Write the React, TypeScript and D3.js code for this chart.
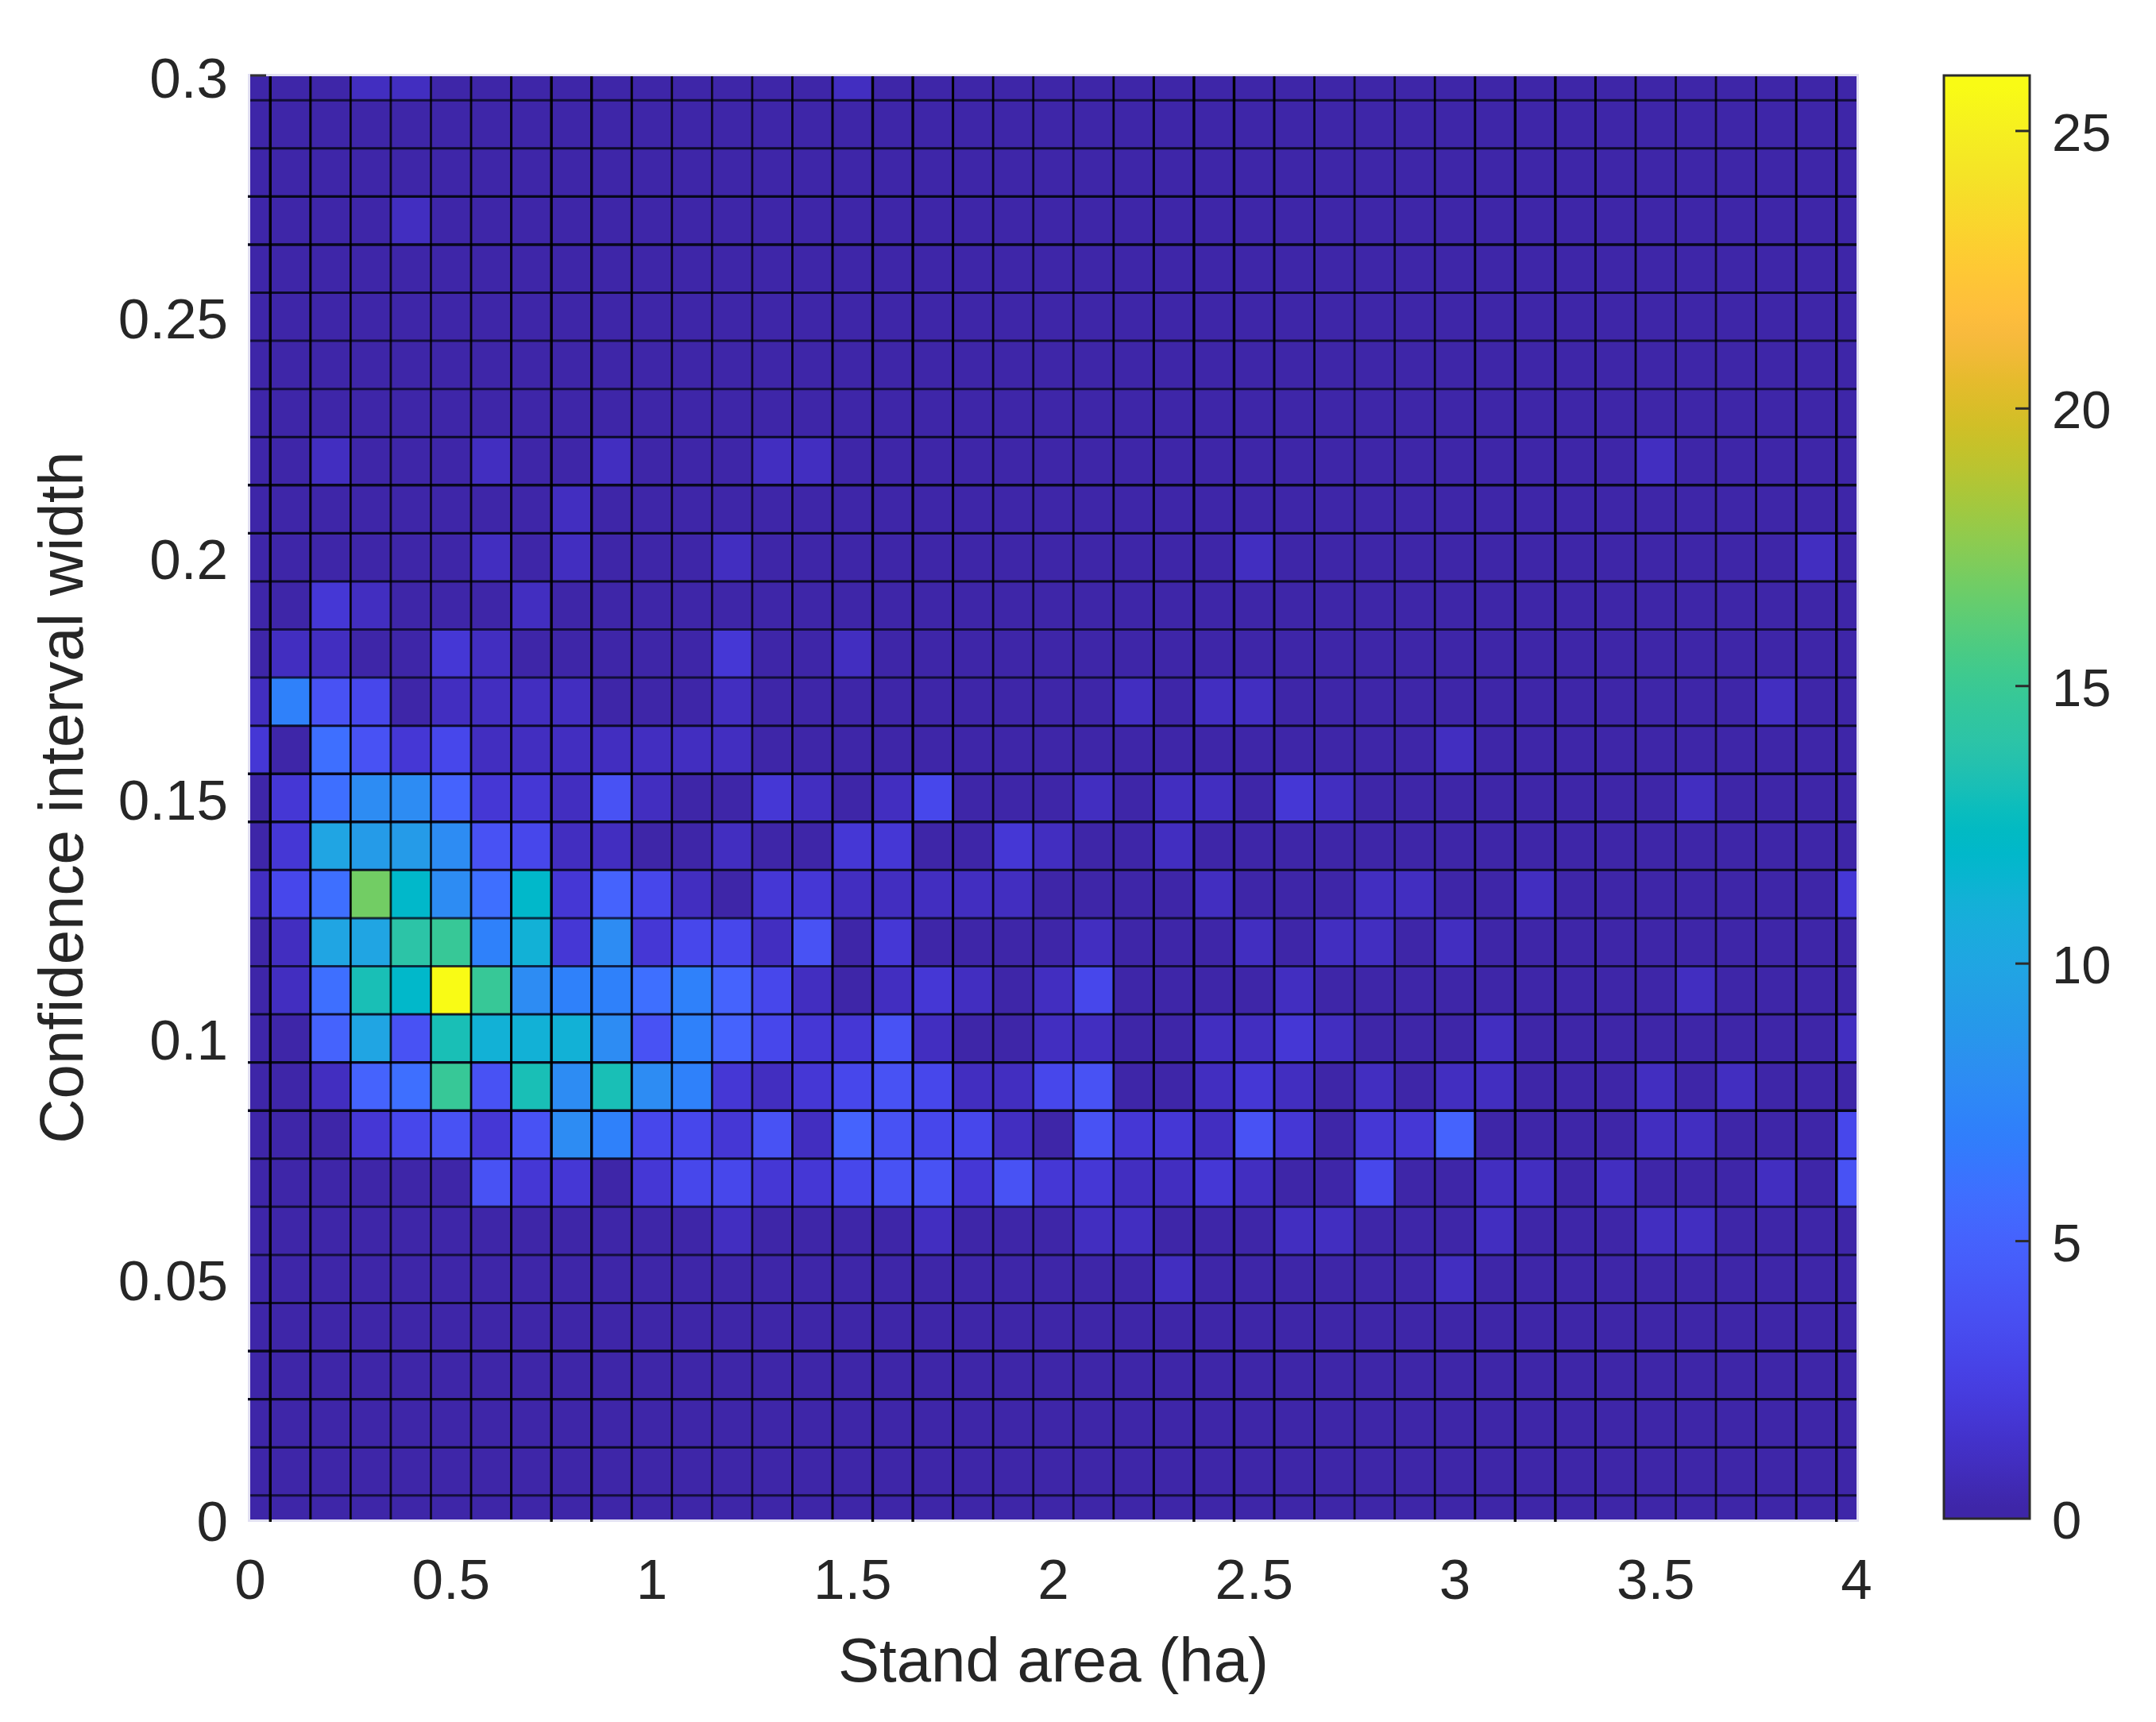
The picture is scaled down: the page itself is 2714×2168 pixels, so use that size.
import React from "react";
import * as d3 from "d3";

const WIDTH = 2714;
const HEIGHT = 2168;
const FONT = "'Liberation Sans', Arial, sans-serif";
const INK = "#262626";

const xTicks = [0, 0.5, 1, 1.5, 2, 2.5, 3, 3.5, 4];
const yTicks = [0, 0.05, 0.1, 0.15, 0.2, 0.25, 0.3];
const colorTicks = [0, 5, 10, 15, 20, 25];
const xTitle = "Stand area (ha)";
const yTitle = "Confidence interval width";
const COL_COUNT = 41;
const ROW_COUNT = 31;
const COLOR_MAX = 26;

// Non-zero counts per row: row index = width / 0.01, pairs of [column, count], column = area / 0.1
const row30 = [[3, 1], [4, 1], [15, 1]];
const row27 = [[4, 1]];
const row22 = [[2, 1], [6, 1], [9, 1], [13, 1], [14, 1], [35, 1]];
const row21 = [[8, 1]];
const row20 = [[6, 1], [8, 1], [12, 1], [25, 1], [39, 1]];
const row19 = [[2, 2], [3, 1], [7, 1]];
const row18 = [[1, 1], [2, 1], [5, 2], [6, 1], [12, 2], [15, 1]];
const row17 = [[0, 1], [1, 7], [2, 4], [3, 3], [5, 1], [6, 1], [7, 1], [8, 1], [12, 1], [22, 1], [24, 1], [25, 1], [38, 1]];
const row16 = [[0, 2], [2, 6], [3, 4], [4, 2], [5, 3], [6, 1], [7, 1], [8, 1], [9, 1], [10, 1], [11, 1], [12, 1], [30, 1]];
const row15 = [[1, 2], [2, 6], [3, 8], [4, 8], [5, 5], [6, 2], [7, 2], [8, 1], [9, 4], [10, 1], [13, 2], [14, 1], [16, 1], [17, 3], [21, 1], [23, 1], [24, 1], [26, 2], [27, 1], [36, 1]];
const row14 = [[1, 2], [2, 10], [3, 9], [4, 9], [5, 8], [6, 4], [7, 3], [8, 1], [9, 1], [12, 1], [15, 2], [16, 2], [19, 2], [20, 1], [23, 1]];
const row13 = [[0, 1], [1, 3], [2, 6], [3, 17], [4, 12], [5, 8], [6, 6], [7, 12], [8, 2], [9, 5], [10, 3], [11, 1], [13, 2], [14, 2], [15, 1], [16, 1], [17, 1], [18, 1], [19, 1], [24, 1], [28, 1], [29, 1], [32, 1], [40, 2]];
const row12 = [[1, 1], [2, 10], [3, 10], [4, 14], [5, 15], [6, 7], [7, 11], [8, 2], [9, 8], [10, 2], [11, 3], [12, 3], [13, 1], [14, 4], [16, 2], [21, 1], [25, 1], [27, 1], [28, 1], [30, 1]];
const row11 = [[1, 1], [2, 6], [3, 13], [4, 12], [5, 26], [6, 15], [7, 8], [8, 7], [9, 7], [10, 6], [11, 7], [12, 5], [13, 3], [14, 1], [16, 1], [17, 2], [18, 1], [20, 1], [21, 3], [26, 1], [36, 1]];
const row10 = [[2, 5], [3, 10], [4, 4], [5, 13], [6, 11], [7, 11], [8, 11], [9, 8], [10, 4], [11, 7], [12, 5], [13, 3], [14, 2], [15, 2], [16, 4], [17, 1], [20, 1], [21, 1], [24, 1], [25, 1], [26, 2], [27, 1], [31, 1], [40, 1]];
const row9 = [[2, 1], [3, 5], [4, 6], [5, 15], [6, 4], [7, 13], [8, 8], [9, 13], [10, 8], [11, 7], [12, 2], [13, 1], [14, 2], [15, 3], [16, 4], [17, 3], [18, 1], [19, 1], [20, 3], [21, 4], [24, 1], [25, 2], [26, 1], [28, 1], [30, 1], [31, 1], [35, 1], [37, 1]];
const row8 = [[3, 2], [4, 3], [5, 4], [6, 2], [7, 4], [8, 8], [9, 7], [10, 3], [11, 3], [12, 2], [13, 4], [14, 1], [15, 5], [16, 4], [17, 3], [18, 3], [19, 1], [21, 4], [22, 2], [23, 2], [24, 1], [25, 4], [26, 2], [28, 2], [29, 2], [30, 5], [35, 1], [36, 1], [40, 3]];
const row7 = [[6, 4], [7, 2], [8, 2], [10, 2], [11, 3], [12, 3], [13, 2], [14, 2], [15, 3], [16, 4], [17, 4], [18, 2], [19, 4], [20, 2], [21, 2], [22, 1], [23, 1], [24, 2], [25, 1], [28, 3], [31, 1], [32, 1], [34, 1], [38, 1], [40, 4]];
const row6 = [[12, 1], [17, 1], [21, 1], [22, 1], [26, 1], [27, 1], [31, 1], [35, 1], [36, 1]];
const row5 = [[23, 1], [30, 1]];

const nonZeroRows: [number, number[][]][] = [
  [30, row30], [27, row27], [22, row22], [21, row21], [20, row20], [19, row19], [18, row18],
  [17, row17], [16, row16], [15, row15], [14, row14], [13, row13], [12, row12], [11, row11],
  [10, row10], [9, row9], [8, row8], [7, row7], [6, row6], [5, row5],
];

const parula = [
  [0.2422, 0.1504, 0.6603], [0.2504, 0.165, 0.7076], [0.2578, 0.1818, 0.7511], [0.2647, 0.1978, 0.7952],
  [0.2706, 0.2147, 0.8364], [0.2751, 0.2342, 0.871], [0.2783, 0.2559, 0.8991], [0.2803, 0.2782, 0.9221],
  [0.2813, 0.3006, 0.9414], [0.281, 0.3228, 0.9579], [0.2795, 0.3447, 0.9717], [0.276, 0.3667, 0.9829],
  [0.2699, 0.3892, 0.9906], [0.2602, 0.4123, 0.9952], [0.244, 0.4358, 0.9988], [0.2206, 0.4603, 0.9973],
  [0.1963, 0.4847, 0.9892], [0.1834, 0.5074, 0.9798], [0.1786, 0.5289, 0.9682], [0.1764, 0.5499, 0.952],
  [0.1687, 0.5703, 0.9359], [0.154, 0.5902, 0.9218], [0.146, 0.6091, 0.9079], [0.138, 0.6276, 0.8973],
  [0.1248, 0.6459, 0.8883], [0.1113, 0.6635, 0.8763], [0.0952, 0.6798, 0.8598], [0.0689, 0.6948, 0.8394],
  [0.0297, 0.7082, 0.8163], [0.0036, 0.7203, 0.7917], [0.0067, 0.7312, 0.766], [0.0433, 0.7411, 0.7394],
  [0.0964, 0.75, 0.712], [0.1408, 0.7584, 0.6842], [0.1717, 0.767, 0.6554], [0.1938, 0.7758, 0.6251],
  [0.2161, 0.7843, 0.5923], [0.247, 0.7918, 0.5567], [0.2906, 0.7973, 0.5188], [0.3406, 0.8008, 0.4789],
  [0.3909, 0.8029, 0.4354], [0.4456, 0.8024, 0.3909], [0.5044, 0.7993, 0.348], [0.5616, 0.7942, 0.3045],
  [0.6174, 0.7876, 0.2612], [0.672, 0.7793, 0.2227], [0.7242, 0.7698, 0.191], [0.7738, 0.7598, 0.1646],
  [0.8203, 0.7498, 0.1535], [0.8634, 0.7406, 0.1596], [0.9035, 0.733, 0.1774], [0.9393, 0.7288, 0.21],
  [0.9728, 0.7298, 0.2394], [0.9956, 0.7434, 0.2371], [0.997, 0.7659, 0.2199], [0.9952, 0.7893, 0.2028],
  [0.9892, 0.8136, 0.1885], [0.9786, 0.8386, 0.1766], [0.9676, 0.8639, 0.1643], [0.961, 0.889, 0.1537],
  [0.9597, 0.9135, 0.1423], [0.9628, 0.9373, 0.1265], [0.9691, 0.9606, 0.1064], [0.9769, 0.9839, 0.0805],
].map(([r, g, b]) => d3.rgb(r * 255, g * 255, b * 255).formatHex());

const PLOT = { left: 315, right: 2337, top: 96, bottom: 1913 };
const BAR = { left: 2447, right: 2555, top: 95, bottom: 1912 };

const x = d3.scaleLinear().domain([0, 4]).range([PLOT.left, PLOT.right]);
const y = d3.scaleLinear().domain([0, 0.3]).range([PLOT.bottom, PLOT.top]);
const colorY = d3.scaleLinear().domain([0, COLOR_MAX]).range([BAR.bottom, BAR.top]);
const color = d3.scaleQuantize<string>().domain([0, COLOR_MAX]).range(parula);

const BASE = color(0);

// Edge lines sit between bin centres; their weight varies slightly in the reference.
const xLineStyle = (i: number) => {
  const m = i % 8;
  if (m === 0 || m === 7) return { o: 1, w: 3.4, tick: true };
  if (m === 1 || m === 6) return { o: 1, w: 3, tick: false };
  if (m === 2 || m === 5) return { o: 0.92, w: 2.8, tick: false };
  return { o: 0.82, w: 2.8, tick: false };
};
const yLineStyle = (i: number) => {
  const m = i % 6;
  if (m === 2 || m === 3) return { o: 1, w: 3.4, tick: true };
  if (m === 1 || m === 4) return { o: 0.9, w: 3, tick: false };
  return { o: 0.78, w: 3, tick: false };
};

const xEdges = d3.range(COL_COUNT - 1).map((i) => (i + 0.5) * 0.1);
const yEdges = d3.range(ROW_COUNT - 1).map((i) => (ROW_COUNT - 2 - i + 0.5) * 0.01);

const cells = nonZeroRows.flatMap(([row, pairs]) =>
  pairs.map(([col, count]) => ({ row, col, count }))
);

const fmt = (v: number) => String(+v.toFixed(2));

export default function App() {
  return (
    <svg
      width={WIDTH}
      height={HEIGHT}
      viewBox={`0 0 ${WIDTH} ${HEIGHT}`}
      style={{ position: "absolute", left: 0, top: 0, display: "block", background: "#fff" }}
      fontFamily={FONT}
      fill={INK}
    >
      <defs>
        <linearGradient id="parula-bar" x1="0" y1="1" x2="0" y2="0">
          {parula.map((c, i) => (
            <stop key={i} offset={(i + 0.5) / parula.length} stopColor={c} />
          ))}
        </linearGradient>
      </defs>

      {/* soft halo round the plot area */}
      <rect
        x={PLOT.left - 1.5}
        y={PLOT.top - 1.5}
        width={PLOT.right - PLOT.left + 3}
        height={PLOT.bottom - PLOT.top + 3}
        fill="none"
        stroke="#e2e0f2"
        strokeWidth={3}
      />

      {/* heat-map background and cells */}
      <rect x={PLOT.left} y={PLOT.top} width={PLOT.right - PLOT.left} height={PLOT.bottom - PLOT.top} fill={BASE} />
      {cells.map(({ row, col, count }) => {
        const x0 = x(Math.max(0, (col - 0.5) * 0.1));
        const x1 = x(Math.min(4, (col + 0.5) * 0.1));
        const y0 = y(Math.min(0.3, (row + 0.5) * 0.01));
        const y1 = y(Math.max(0, (row - 0.5) * 0.01));
        return <rect key={`${row}-${col}`} x={x0} y={y0} width={x1 - x0} height={y1 - y0} fill={color(count)} />;
      })}

      {/* grid lines */}
      {yEdges.map((v, i) => {
        const s = yLineStyle(i);
        return (
          <line
            key={`h${i}`}
            x1={s.tick ? PLOT.left - 3 : PLOT.left}
            x2={PLOT.right}
            y1={y(v)}
            y2={y(v)}
            stroke="#08081c"
            strokeOpacity={s.o}
            strokeWidth={s.w}
          />
        );
      })}
      {xEdges.map((v, i) => {
        const s = xLineStyle(i);
        return (
          <line
            key={`v${i}`}
            x1={x(v)}
            x2={x(v)}
            y1={PLOT.top}
            y2={s.tick ? PLOT.bottom + 3 : PLOT.bottom}
            stroke="#000"
            strokeOpacity={s.o}
            strokeWidth={s.w}
          />
        );
      })}
      <line x1={PLOT.left} x2={PLOT.left + 20} y1={PLOT.top - 1} y2={PLOT.top - 1} stroke="#333" strokeWidth={3} />

      {/* axis labels */}
      {xTicks.map((t) => (
        <text key={`xt${t}`} x={x(t)} y={2013} fontSize={71} textAnchor="middle">
          {fmt(t)}
        </text>
      ))}
      {yTicks.map((t) => (
        <text key={`yt${t}`} x={287} y={y(t) + 27} fontSize={71} textAnchor="end">
          {fmt(t)}
        </text>
      ))}
      <text x={(PLOT.left + PLOT.right) / 2} y={2117} fontSize={78} textAnchor="middle">
        {xTitle}
      </text>
      <text transform="translate(104,1004) rotate(-90)" fontSize={78} textAnchor="middle">
        {yTitle}
      </text>

      {/* colour bar */}
      <rect
        x={BAR.left}
        y={BAR.top}
        width={BAR.right - BAR.left}
        height={BAR.bottom - BAR.top}
        fill="url(#parula-bar)"
        stroke="#2b2b2b"
        strokeWidth={3}
      />
      {colorTicks.map((t) => (
        <g key={`ct${t}`}>
          {t > 0 && (
            <line
              x1={BAR.right - 18}
              x2={BAR.right}
              y1={colorY(t)}
              y2={colorY(t)}
              stroke="#2b2b2b"
              strokeWidth={3}
            />
          )}
          <text x={2583} y={colorY(t) + 25} fontSize={67}>
            {t}
          </text>
        </g>
      ))}
    </svg>
  );
}
